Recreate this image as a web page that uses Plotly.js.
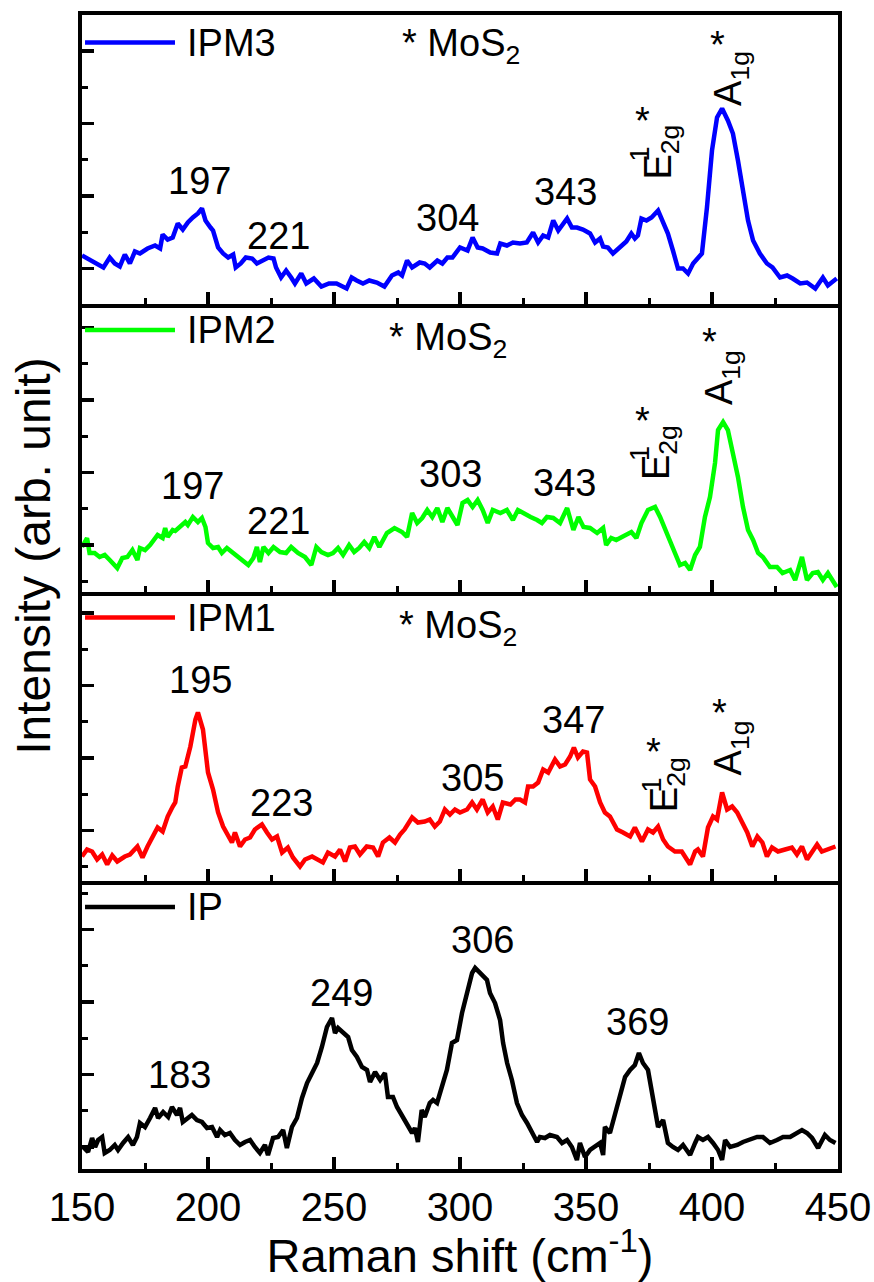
<!DOCTYPE html>
<html>
<head>
<meta charset="utf-8">
<script src="https://cdn.plot.ly/plotly-3.0.1.min.js"></script>
<style>html,body{margin:0;padding:0;background:#fff;}#chart{width:874px;height:1282px;}</style>
</head>
<body>
<div id="chart"></div>
<script>
// ---------------- DATA (Raman shift in cm^-1, intensity in arb. units) ----------------
const seriesNames = ["IPM3", "IPM2", "IPM1", "IP"];
const seriesColors = ["#0000FF", "#00FF00", "#FF0000", "#000000"];

const IPM3_x = [150,156,158.5,161,163,165,167,169,171,173,176,179,181,182,184,186,188,190,192,194,196,197.6,199,201,202,204,206,208,210,211,213,215,217.5,219.4,222,224,226,227,229,231,233,234.5,237,239,242,245,248,251,255,257,259,261.5,264,267,270,273,275.5,277,279,281,284,286,288,291,293,295,297,300,303,305,307,309,312,314.7,316,318.6,321,323.8,326.5,329,331,333,335,337,339,340.5,342.5,344.4,346.4,348.8,351.6,353.6,355.6,356.8,358.7,360.7,363.5,366,368,369.4,370.6,372,374,376,378.6,380.6,382.5,384.5,386.5,388.5,390.5,392.5,396,398,400,402,404,406.3,408.3,410.3,412.3,414.3,416.3,419,421.8,424,427,429.8,432,435,437.7,441,444,446,449.5];
const IPM3_y = [48,40,36,46,40,37,49,40,52,50,55,58,55,69,64,66,80,74,81,86,90,95,83,76,73,56,50,46,49,36,40,46,45,40,43,46,45,36,26,33,26,20,30,20,25,17,20,20,15,26,23,20,23,21,17,28,31,28,43,36,41,40,36,43,40,46,46,56,53,66,56,55,51,50,60,58,61,60,61,71,61,68,66,83,73,79,85,76,76,74,70,61,65,57,56,50,57,62,70,65,68,85,83,86,93,80,70,53,35,35,30,40,50,96,153,186,195,183,170,143,110,83,63,50,40,36,26,28,25,20,21,15,26,18,25];

const IPM2_x = [150,152,153,155,157,159,161,164,166,168,170,172,173,175,177,179,180,182,183,184,186,187,189,191,192,194,196,197.6,199,200,202,204,205.5,207.5,209.5,212,214,216,218,219.4,220.6,222,224,226,228.6,231,233,235.7,238.5,241,243,245,247.6,249.6,251.6,253.6,256,258,260,262,264,266,268,271,274,277,279,281,283,285,287,289,291,293,295,297,299,301,303,305,307,309,311,313,316,318.6,321,323,325,328,330.6,332.5,334.5,337,339.7,342.5,345,347,349,351.6,354.4,356.8,358,360,362,364.3,366,368,370,372,374.6,377.4,379.4,381.4,383.3,385.3,387.3,389.3,391.3,393.3,395.2,397.2,399.2,401.2,402.4,404.4,406.3,408.3,410.3,412.3,414.3,416.3,418.3,420.2,423,425.8,428,431,433,435.7,437.7,440,442,444,446,449.5];
const IPM2_y = [45,54,39,39,35,37,32,24,34,35,42,32,44,42,47,53,57,54,64,55,62,61,65,70,67,75,70,74,65,49,44,45,39,44,40,35,32,27,34,45,30,45,39,45,40,39,45,39,35,27,45,40,37,39,44,37,47,40,44,50,44,55,45,59,64,60,55,79,69,74,82,75,84,70,84,75,67,89,92,85,92,82,69,82,79,82,72,82,79,75,72,69,75,74,69,84,62,75,65,64,59,64,47,54,52,55,57,60,54,69,82,85,75,62,49,39,27,29,22,37,45,75,95,129,162,170,162,139,115,85,62,52,39,35,25,25,19,22,12,35,12,19,20,12,19,5];

const IPM1_x = [150,152,154,156,158,160,162,164,167,169,172,174,176,178,180,182,184,186,187,188,189.6,191,193,195,196,198,200,202,204,206,208,209.5,210.7,212.7,214.7,216.7,218.6,221.4,223.4,225.4,227.4,229.4,231.7,233.7,236.5,238.5,241.3,243.3,245.6,247.6,250.4,252.4,254.4,256.3,258.3,260.3,263,265.5,267.5,269.4,272,274.2,276.2,278,281,283.3,286,288,290,292,294,296,298,300,302.8,304.8,306.7,309,311,313,315,317,320,322,323.8,325.8,327,329,331,333,335,337.7,339.7,341.7,343.7,345.2,346.8,348.8,350.4,351.6,353.6,355.6,357.5,359.5,362.3,364.7,367.5,369.4,372.2,374.6,376.6,378.6,380.6,382.5,385.3,388,390,391.3,393.3,394.4,396.4,398.4,400.4,402,404,406,408,410,412,414,416,418,420,421.8,423.8,426.2,429,431.7,433.7,435.7,437.7,439.7,441.7,443.6,445.6,449];
const IPM1_y = [24,31,29,21,26,16,25,19,24,26,34,23,34,44,53,49,64,74,78,94,113,114,134,161,168,151,108,91,68,54,46,38,48,34,41,43,51,56,48,41,44,28,33,23,14,21,24,21,18,28,24,31,19,33,34,26,34,33,24,38,43,38,46,51,63,58,59,61,54,59,71,66,71,68,71,78,71,81,68,74,61,78,76,81,81,78,94,94,98,111,108,121,114,116,124,133,123,129,128,101,94,78,68,64,51,48,44,53,39,51,48,54,41,34,29,29,21,16,29,31,24,53,64,61,88,71,74,68,58,48,34,44,38,24,33,29,31,33,26,34,21,29,36,29,31,34];

const IP_x = [150.5,152.4,154,155.2,156.4,158,159,161,163,164.3,166.3,168.3,170.2,171.8,173,175,177,179,180.2,182.2,184.2,185.7,187.7,188.9,190,192,193.6,195.6,197.6,199.6,201.6,203.6,204.8,206.7,208.7,210.7,212.7,214.7,216.7,218.6,220.6,222.6,223.8,225.8,227.8,229.8,231.3,233.3,235.3,237.3,239.3,241.3,243.3,245.2,247.2,249.2,250.4,251.6,253.6,255.6,257.1,259.1,261.1,263.1,264.3,266.3,268.3,270.2,271.4,273.4,275,277,279,281,282.1,283.3,284.8,286,288,289.3,290.9,292.9,294.8,296.8,298.8,300.8,302.8,304.8,306,307.9,310.7,311.9,313.9,315.9,317.1,318.7,320.6,322.6,324.6,326.6,328.6,330.6,331.7,333.7,335.7,338.5,340.5,342.5,344.4,346.4,347.6,349.6,351.6,353.6,355.6,356.8,357.5,359.5,361.5,363.5,365.5,367.5,369.4,371,372.6,374.6,376.6,378.6,380.6,382.5,384.5,386.5,388.5,391.3,393.3,394.4,396.4,398.4,400.4,402.4,404,405.2,407.2,410,412.3,415,417.9,420.2,423,425.8,428.2,431,433.7,435.7,437.7,439.7,442.1,444.8,446.8,449];
const IP_y = [22,17,31,22,29,32,16,19,24,19,26,32,24,32,46,42,51,61,51,57,52,62,54,61,47,51,54,49,47,41,42,32,39,34,36,29,24,27,29,22,16,24,14,31,32,39,21,42,51,71,86,96,106,122,142,151,136,141,137,132,119,112,102,99,87,97,89,96,72,72,62,54,46,36,41,27,59,52,66,69,66,82,99,126,129,156,174,196,201,196,189,176,166,149,126,106,89,66,54,46,36,27,32,31,34,32,26,29,22,9,26,12,19,22,26,14,42,36,56,72,92,99,104,116,106,99,72,42,49,26,22,19,24,14,26,32,29,32,26,19,9,29,22,24,27,29,32,32,26,29,32,32,36,39,36,31,21,34,29,26];

// peak labels (text) per panel
const IPM3_peaks = ["197", "221", "304", "343"];
const IPM2_peaks = ["197", "221", "303", "343"];
const IPM1_peaks = ["195", "223", "305", "347"];
const IP_peaks   = ["183", "249", "306", "369"];

const xTickVals = [150, 200, 250, 300, 350, 400, 450];

// ---------------- LAYOUT ----------------
const FONT = "Liberation Sans, Arial, Helvetica, sans-serif";
const panelAxes = [["x","y"],["x2","y2"],["x3","y3"],["x4","y4"]];
const domains = [[0.75,1],[0.5,0.75],[0.25,0.5],[0,0.25]];
const yTick0 = [35, 47, 50, 22];
const YMAX = 288.5;

const xs = [IPM3_x, IPM2_x, IPM1_x, IP_x];
const ys = [IPM3_y, IPM2_y, IPM1_y, IP_y];

const traces = xs.map((x, i) => ({
  type: "scatter", mode: "lines", name: seriesNames[i],
  x: x, y: ys[i],
  xaxis: panelAxes[i][0], yaxis: panelAxes[i][1],
  line: {color: seriesColors[i], width: 4.5},
  showlegend: false, hoverinfo: "skip"
}));

const layout = {
  width: 874, height: 1282,
  margin: {l: 82, r: 36, t: 15, b: 113},
  paper_bgcolor: "#fff", plot_bgcolor: "#fff",
  font: {family: FONT, size: 38, color: "#000"},
  showlegend: false,
  annotations: [], shapes: []
};

for (let i = 0; i < 4; i++) {
  const xn = i === 0 ? "xaxis" : "xaxis" + (i + 1);
  const yn = i === 0 ? "yaxis" : "yaxis" + (i + 1);
  const last = i === 3;
  layout[xn] = {
    range: [150, 450], anchor: panelAxes[i][1],
    tickmode: "array", tickvals: xTickVals,
    ticks: "inside", ticklen: 12, tickwidth: 3.5, tickcolor: "#000",
    minor: {ticks: "inside", ticklen: 6, tickwidth: 3, tickcolor: "#000", dtick: 25, tick0: 150, showgrid: false},
    showline: true, linewidth: 4, linecolor: "#000", mirror: i === 0,
    showgrid: false, zeroline: false,
    showticklabels: last,
    tickfont: {family: FONT, size: 40, color: "#000"},
    fixedrange: true
  };
  if (last) {
    layout[xn].title = {text: "Raman shift (cm<sup>-1</sup>)", font: {family: FONT, size: 47, color: "#000"}, standoff: 8};
  }
  layout[yn] = {
    domain: domains[i], range: [0, YMAX], anchor: panelAxes[i][0],
    tick0: yTick0[i], dtick: 72.5,
    ticks: "inside", ticklen: 12, tickwidth: 3.5, tickcolor: "#000",
    minor: {ticks: "inside", ticklen: 6, tickwidth: 3, tickcolor: "#000", dtick: 36.25, tick0: yTick0[i], showgrid: false},
    showline: true, linewidth: 4, linecolor: "#000", mirror: true,
    showgrid: false, zeroline: false, showticklabels: false, fixedrange: true
  };
}

function ann(panel, x, y, text, opts) {
  return Object.assign({
    xref: panelAxes[panel][0], yref: panelAxes[panel][1], x: x, y: y, text: text,
    showarrow: false, xanchor: "center", yanchor: "middle",
    font: {family: FONT, size: 38, color: "#000"}
  }, opts || {});
}

// peak label positions [x, height]
const peakPos = [
  [[196.8,123],[227.8,68],[295.2,86],[342,112]],
  [[194,106],[227.8,71],[296.4,118],[341.3,109]],
  [[197.2,201],[229,78],[304.8,103],[345.2,161]],
  [[188.5,94],[252.8,176],[309.1,229],[370.6,147]]
];
const peakTexts = [IPM3_peaks, IPM2_peaks, IPM1_peaks, IP_peaks];
for (let i = 0; i < 4; i++) {
  peakTexts[i].forEach((t, k) => layout.annotations.push(ann(i, peakPos[i][k][0], peakPos[i][k][1], t)));
}

// legend sample lines + names
const legendH = [261, 262, 263, 262];
for (let i = 0; i < 4; i++) {
  layout.shapes.push({type: "line", xref: panelAxes[i][0] + " domain", yref: panelAxes[i][1],
    x0: 0.004, x1: 0.123, y0: legendH[i], y1: legendH[i], line: {color: seriesColors[i], width: 4.5}});
  layout.annotations.push(ann(i, 0.136, legendH[i], seriesNames[i], {xref: panelAxes[i][0] + " domain", xanchor: "left"}));
}

// MoS2 mode labels for the three IPM panels
const mos2 = [
  {moX: 276.2, moH: 258, eX: 379.4, eH: 151, e1X: 371.4, e1H: 150, esX: 372.6, esH: 183, aX: 407.3, aH: 225, asX: 402, asH: 259},
  {moX: 271, moH: 252, eX: 379, eH: 139, e1X: 371.4, e1H: 139, esX: 372.6, esH: 171, aX: 404, aH: 214, asX: 399.2, asH: 250},
  {moX: 275, moH: 253, eX: 382, eH: 96, e1X: 375.8, e1H: 95, esX: 376.6, esH: 129, aX: 407.5, aH: 133, asX: 402.8, asH: 168}
];
mos2.forEach((m, i) => {
  layout.annotations.push(ann(i, m.moX, m.moH, "* MoS<sub>2</sub>", {xanchor: "left"}));
  layout.annotations.push(ann(i, m.eX, m.eH, "E<sub>2g</sub>", {textangle: -90}));
  layout.annotations.push(ann(i, m.e1X, m.e1H, "1", {textangle: -90, font: {family: FONT, size: 27, color: "#000"}}));
  layout.annotations.push(ann(i, m.esX, m.esH, "*"));
  layout.annotations.push(ann(i, m.aX, m.aH, "A<sub>1g</sub>", {textangle: -90}));
  layout.annotations.push(ann(i, m.asX, m.asH, "*"));
});

// shared y-axis title
layout.annotations.push({
  xref: "paper", yref: "paper", x: -0.064, y: 0.531, text: "Intensity (arb. unit)",
  textangle: -90, showarrow: false, xanchor: "center", yanchor: "middle",
  font: {family: FONT, size: 48, color: "#000"}
});

Plotly.newPlot("chart", traces, layout, {staticPlot: true, displayModeBar: false});
</script>
</body>
</html>
